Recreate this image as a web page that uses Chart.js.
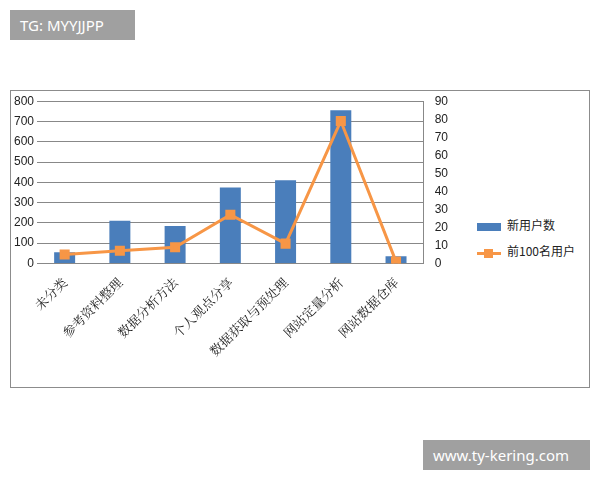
<!DOCTYPE html>
<html>
<head>
<meta charset="utf-8">
<script src="https://cdn.jsdelivr.net/npm/chart.js@4"></script>
<style>
body { margin: 0; width: 600px; height: 480px; background: #fff; position: relative; font-family: "Noto Sans", sans-serif; }
#box { position: absolute; left: 10px; top: 90px; width: 578px; height: 296px; border: 1px solid #8c8c8c; }
#c { position: absolute; left: 0; top: 0; }
.tag { position: absolute; background: #a0a0a0; color: #fff; font-size: 15px; line-height: 30px; padding: 0 10px; }
.leg { position: absolute; left: 466px; font-family: "Noto Sans CJK SC"; font-size: 12px; color: #222; line-height: 16px; }
.sw { display: inline-block; vertical-align: middle; margin-right: 6px; position: relative; width: 24px; height: 8px; }
</style>
</head>
<body>
<div class="tag" style="left:10px;top:10px;width:105px;">TG: MYYJJPP</div>
<div class="tag" style="left:423px;top:440px;width:147px;">www.ty-kering.com</div>
<div id="box">
  <canvas id="c" width="440" height="296"></canvas>
  <div class="leg" style="top:126px;"><span class="sw" style="background:#4a7ebb"></span>新用户数</div>
  <div class="leg" style="top:152px;"><span class="sw"><span style="position:absolute;left:0;top:3px;width:24px;height:3px;background:#f79646"></span><span style="position:absolute;left:7px;top:0;width:9px;height:9px;background:#f79646"></span></span>前100名用户</div>
</div>
<script>
// --- chart data ---
const categories = ['未分类', '参考资料整理', '数据分析方法', '个人观点分享', '数据获取与预处理', '网站定量分析', '网站数据仓库'];
const newUsers = [55, 210, 185, 375, 410, 755, 35];
const top100 = [5, 7, 9, 27, 11, 79, 1];

const ctx = document.getElementById('c').getContext('2d');
new Chart(ctx, {
    type: 'bar',
    data: {
        labels: categories,
        datasets: [{
            label: '新用户数',
            data: newUsers,
            backgroundColor: '#4a7ebb',
            yAxisID: 'y',
            barPercentage: 0.38,
            categoryPercentage: 1,
            order: 2
        }, {
            type: 'line',
            label: '前100名用户',
            data: top100,
            borderColor: '#f79646',
            backgroundColor: '#f79646',
            borderWidth: 3,
            pointStyle: 'rect',
            pointRadius: 5,
            yAxisID: 'y1',
            order: 1
        }]
    },
    options: {
        responsive: false,
        animation: false,
        layout: { padding: { left: 0, right: 0, top: 8, bottom: 25 } },
        plugins: { legend: { display: false } },
        scales: {
            x: {
                grid: { display: false },
                border: { color: '#888' },
                ticks: { color: '#222', maxRotation: 45, minRotation: 45, font: { family: 'Noto Serif CJK SC, Noto Sans CJK SC', size: 13 } }
            },
            y: {
                position: 'left', min: 0, max: 800,
                ticks: { stepSize: 100, color: '#222', font: { size: 12 } },
                grid: { color: '#888', drawTicks: false },
                border: { display: false }
            },
            y1: {
                position: 'right', min: 0, max: 90,
                ticks: { stepSize: 10, color: '#222', font: { size: 12 } },
                grid: { display: false },
                border: { color: '#888' }
            }
        }
    }
});
</script>
</body>
</html>
